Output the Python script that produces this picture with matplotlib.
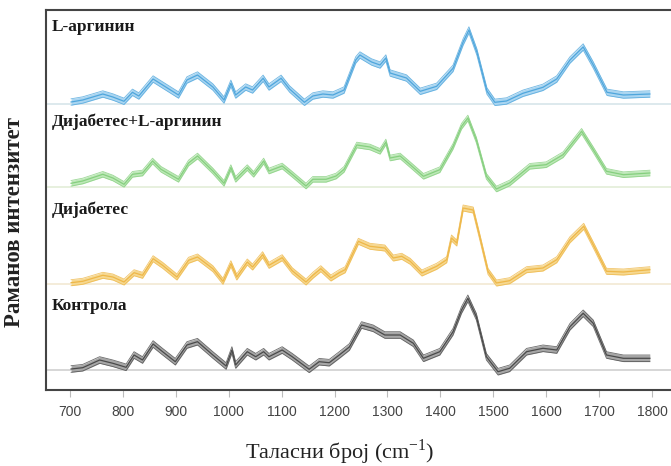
import matplotlib
matplotlib.use("Agg")
import matplotlib.pyplot as plt
import numpy as np

plt.rcParams['mathtext.fontset'] = 'custom'
plt.rcParams['mathtext.rm'] = 'Liberation Serif'

# ---- data (heights above each trace's baseline, arbitrary units) ----
w_arg = [702, 724, 762, 781, 802, 818, 830, 857, 875, 905, 921, 941, 970, 991, 1004, 1013, 1032, 1045,
         1065, 1076, 1099, 1115, 1143, 1159, 1178, 1197, 1218, 1240, 1248, 1270, 1286, 1297, 1305, 1336,
         1362, 1393, 1424, 1443, 1454, 1469, 1488, 1503, 1525, 1556, 1594, 1620, 1645, 1670, 1689, 1715,
         1746, 1796]
i_arg = [2, 4, 10, 7, 2.7, 11.7, 8, 25, 19, 9, 24, 29, 17, 4, 20.7, 9, 17, 14,
         25.7, 17, 25.7, 15, 1.7, 8, 10, 9, 14, 44, 49, 42, 39, 46, 31, 26,
         12.7, 17.7, 35.7, 62, 74, 52, 13, 1.7, 3, 10.7, 16.7, 25, 44, 57, 39, 11.7,
         9, 10]

w_dia_arg = [702, 724, 762, 781, 802, 818, 837, 856, 872, 905, 924, 941, 970, 991, 1004, 1013, 1035, 1047,
             1066, 1076, 1101, 1120, 1146, 1159, 1184, 1203, 1218, 1242, 1267, 1286, 1297, 1305, 1324, 1343,
             1368, 1399, 1424, 1440, 1452, 1468, 1487, 1506, 1531, 1569, 1600, 1632, 1667, 1689, 1714, 1746,
             1796]
i_dia_arg = [3.7, 6, 12.7, 9, 2.7, 12.7, 14, 26, 17.7, 7.7, 24, 31, 16, 3.7, 19.4, 7.7, 19.4, 12.7,
             26, 16, 21, 12.7, 1, 7.7, 7.7, 11, 17.7, 42, 40, 35.7, 45, 29, 31, 22.3,
             10.7, 17.3, 40.7, 60.7, 69, 47, 10.7, -2, 4, 20.7, 22.3, 32.3, 55.7, 37.3, 15.7, 12.3,
             14]

w_dia = [702, 724, 762, 781, 802, 821, 837, 857, 875, 902, 924, 941, 970, 989, 1004, 1015, 1035, 1045,
         1064, 1076, 1101, 1120, 1146, 1159, 1174, 1193, 1209, 1220, 1245, 1267, 1295, 1311, 1327, 1343,
         1365, 1393, 1412, 1421, 1431, 1443, 1462, 1475, 1490, 1506, 1531, 1563, 1594, 1620, 1645, 1671,
         1692, 1714, 1746, 1796]
i_dia = [1.3, 2.7, 8.7, 7, 2, 11.3, 8.7, 25.3, 18.7, 7, 23.7, 27, 15.3, 2.7, 20.3, 7, 22, 17,
         29.3, 18.7, 26.3, 13.3, 2, 8.7, 15.3, 6, 11.3, 14.3, 42.7, 37.7, 36, 26, 27.7, 22.7,
         11, 17.7, 24.3, 46, 41, 76, 74, 46, 12.7, 1, 3.3, 14.3, 16, 24.3, 44.3, 57.7,
         36, 12.7, 12, 14.3]

w_ctrl = [702, 724, 756, 781, 806, 821, 837, 857, 875, 899, 921, 941, 970, 995, 1006, 1013, 1035, 1051,
          1066, 1076, 1101, 1120, 1152, 1171, 1190, 1209, 1228, 1251, 1273, 1295, 1324, 1349, 1368, 1399,
          1424, 1440, 1452, 1468, 1487, 1509, 1531, 1563, 1594, 1620, 1645, 1670, 1689, 1714, 1746, 1796]
i_ctrl = [1, 2.3, 10, 6.7, 2.7, 15, 10, 26, 18.3, 8.3, 25, 28.3, 15, 4, 20, 5, 18.3, 13.3,
          18.3, 13.3, 20, 13.3, 0.7, 8.3, 7.3, 15, 23, 45, 41.7, 35, 35, 26.7, 11.7, 18.3,
          38.3, 60, 71.7, 53.3, 13.3, -1.7, 1.7, 18.3, 21.7, 20, 43.3, 56.7, 46.7, 15, 11.7, 11.7]

labels = ["L-аргинин", "Дијабетес+L-аргинин", "Дијабетес", "Контрола"]
x_ticks = [700, 800, 900, 1000, 1100, 1200, 1300, 1400, 1500, 1600, 1700, 1800]

# ---- style ----
series = [
    (w_arg, i_arg, 286, 3.2, "#4fa6dc", "#a9d5f1", "#d7e5ea"),
    (w_dia_arg, i_dia_arg, 203, 2.8, "#86cf7f", "#bde8b7", "#e3edd8"),
    (w_dia, i_dia, 106, 3.0, "#eeb748", "#f6d890", "#f2e9d3"),
    (w_ctrl, i_ctrl, 20, 3.3, "#4a4a4a", "#a6a6a6", "#cfcfcf"),
]
label_y = [363, 268, 180, 84]

fig = plt.figure(figsize=(6.71, 4.66), dpi=100)
ax = fig.add_axes([46 / 671, 76 / 466, 625 / 671, 380 / 466])
ax.set_xlim(654.6, 1836)
ax.set_ylim(0, 380)

for (w, v, off, bw, lc, fc, bc), lab, ly in zip(series, labels, label_y):
    w = np.asarray(w, float)
    v = np.asarray(v, float) + off
    ax.axhline(off, color=bc, lw=1.2, zorder=1)
    ax.fill_between(w, v - bw, v + bw, color=fc, lw=0, zorder=2)
    ax.plot(w, v - bw, color=lc, lw=0.6, alpha=0.8, zorder=3)
    ax.plot(w, v + bw, color=lc, lw=0.6, alpha=0.8, zorder=3)
    ax.plot(w, v, color=lc, lw=0.9, zorder=4)
    ax.text(666, ly, lab, fontsize=12.5, family="Liberation Serif", color="#1a1a1a",
            fontweight="semibold", va="center", ha="left")

ax.set_xticks(x_ticks)
ax.set_yticks([])
ax.tick_params(axis="x", length=5, width=0.8, color="#bbbbbb", labelsize=10,
               labelcolor="#444444", pad=6)
for lab in ax.get_xticklabels():
    lab.set_family("Liberation Sans")
for s in ["left", "top", "bottom"]:
    ax.spines[s].set_color("#444444")
    ax.spines[s].set_linewidth(1.5)
ax.spines["right"].set_visible(False)

fig.text(340 / 671, 1 - 452 / 466, "Таласни број (cm$^{-1}$)", fontsize=16,
         family="Liberation Serif", color="#222222", va="center", ha="center")
fig.text(15 / 671, 1 - 222 / 466, "Раманов интензитет", rotation=90, fontsize=16.5,
         family="Liberation Serif", fontweight="bold", va="center", ha="center", color="#222222")

fig.savefig("out.png", dpi=100)
